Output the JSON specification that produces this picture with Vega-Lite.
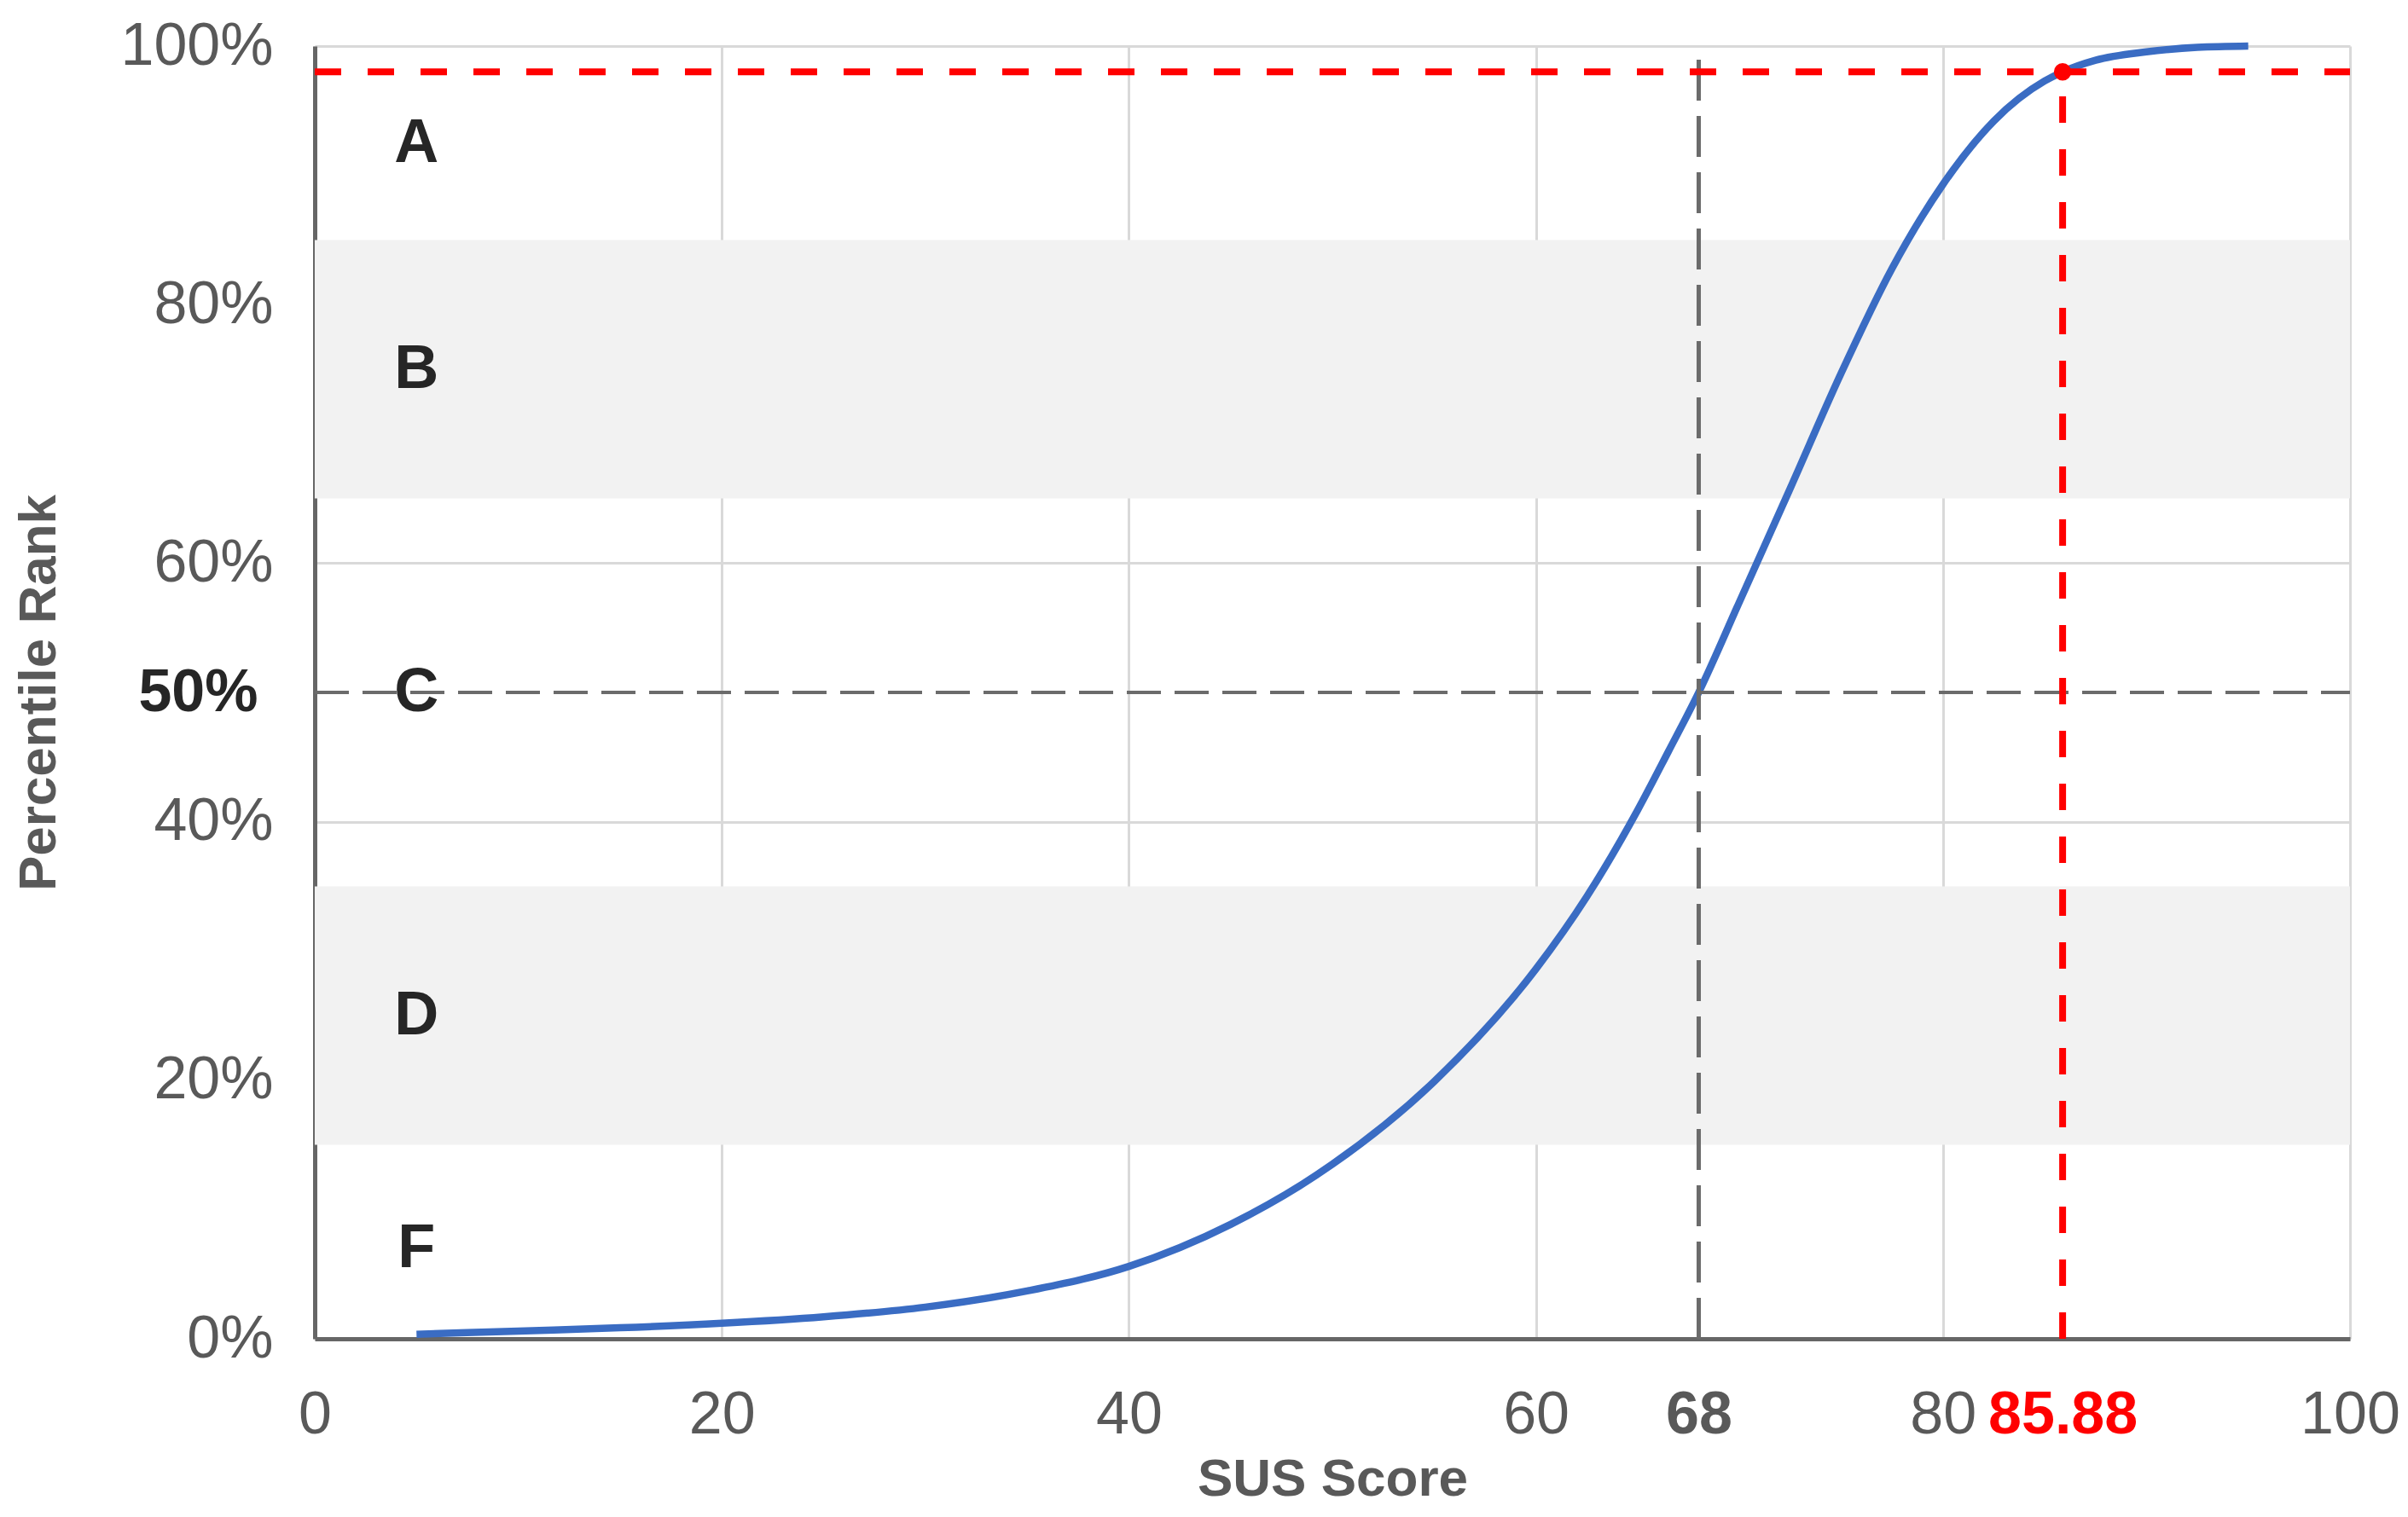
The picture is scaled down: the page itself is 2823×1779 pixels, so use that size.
{
  "$schema": "https://vega.github.io/schema/vega-lite/v6.json",
  "width": 2386,
  "height": 1516,
  "autosize": {"type": "none"},
  "padding": {"left": 369, "top": 54, "right": 68, "bottom": 209},
  "background": "white",
  "config": {"view": {"stroke": null}, "font": "Liberation Sans"},
  "datasets": {
    "bands": [
      {"x": 0, "x2": 100, "y": 65, "y2": 85, "grade": "B"},
      {"x": 0, "x2": 100, "y": 15, "y2": 35, "grade": "D"}
    ],
    "curve": [
      {"x": 5, "y": 0.35}, {"x": 10, "y": 0.6}, {"x": 15, "y": 0.85}, {"x": 20, "y": 1.2},
      {"x": 25, "y": 1.7}, {"x": 30, "y": 2.45}, {"x": 35, "y": 3.7}, {"x": 40, "y": 5.6},
      {"x": 45, "y": 8.85}, {"x": 50, "y": 13.5}, {"x": 55, "y": 19.9}, {"x": 60, "y": 28.6},
      {"x": 62.5, "y": 34.2}, {"x": 65, "y": 40.9}, {"x": 66.5, "y": 45.4}, {"x": 68, "y": 50},
      {"x": 70, "y": 57}, {"x": 72.5, "y": 65.8}, {"x": 75, "y": 74.7}, {"x": 77.5, "y": 82.8},
      {"x": 80, "y": 89.3}, {"x": 82.5, "y": 94.2}, {"x": 85, "y": 97.3}, {"x": 85.88, "y": 98},
      {"x": 87.5, "y": 98.9}, {"x": 90, "y": 99.55}, {"x": 92.5, "y": 99.9}, {"x": 95, "y": 100}
    ],
    "hgray": [{"x": 0, "x2": 100, "y": 50}],
    "vgray": [{"x": 68, "y": 0, "y2": 100}],
    "hred": [{"x": 0, "x2": 100, "y": 98}],
    "vred": [{"x": 85.88, "y": 0, "y2": 98}],
    "pt": [{"x": 85.88, "y": 98}],
    "grades": [
      {"x": 5, "y": 92.5, "label": "A"},
      {"x": 5, "y": 75, "label": "B"},
      {"x": 5, "y": 50, "label": "C"},
      {"x": 5, "y": 25, "label": "D"},
      {"x": 5, "y": 7, "label": "F"}
    ]
  },
  "encoding": {
    "x": {
      "field": "x", "type": "quantitative",
      "scale": {"domain": [0, 100], "nice": false, "zero": false},
      "axis": {
        "title": "SUS Score", "titleFont": "Liberation Sans", "titleFontSize": 62, "titleFontWeight": "bold", "titleColor": "#595959",
        "titleX": 1193, "titleY": 164, "titleBaseline": "middle", "titleAlign": "center",
        "values": [0, 20, 40, 60, 68, 80, 85.88, 100],
        "labelExpr": "datum.value == 85.88 ? '85.88' : '' + datum.value",
        "labelFont": "Liberation Sans", "labelFontSize": 70,
        "labelColor": {"condition": {"test": "datum.value == 85.88", "value": "#ff0000"}, "value": "#595959"},
        "labelFontWeight": {"condition": {"test": "datum.value == 68 || datum.value == 85.88", "value": "bold"}, "value": "normal"},
        "labelPadding": 55, "labelOverlap": false, "labelFlush": false, "labelBound": false,
        "ticks": false, "domainColor": "#666666", "domainWidth": 5,
        "grid": true, "gridColor": "#d9d9d9", "gridWidth": 3,
        "gridOpacity": {"condition": {"test": "datum.value == 68 || datum.value == 85.88", "value": 0}, "value": 1}
      }
    },
    "y": {
      "field": "y", "type": "quantitative",
      "scale": {"domain": [0, 100], "nice": false},
      "axis": {
        "title": "Percentile Rank", "titleFont": "Liberation Sans", "titleFontSize": 62, "titleFontWeight": "bold", "titleColor": "#595959",
        "titleX": -324, "titleY": 758, "titleAngle": -90, "titleBaseline": "middle", "titleAlign": "center",
        "values": [0, 20, 40, 50, 60, 80, 100],
        "labelExpr": "datum.value + '%'",
        "labelFont": "Liberation Sans", "labelFontSize": 70,
        "labelColor": {"condition": {"test": "datum.value == 50", "value": "#262626"}, "value": "#595959"},
        "labelFontWeight": {"condition": {"test": "datum.value == 50", "value": "bold"}, "value": "normal"},
        "labelPadding": {"condition": {"test": "datum.value == 50", "value": 67}, "value": 49},
        "labelOverlap": false, "labelFlush": false, "labelBound": false,
        "ticks": false, "domainColor": "#666666", "domainWidth": 5,
        "grid": true, "gridColor": "#d9d9d9", "gridWidth": 3,
        "gridOpacity": {"condition": {"test": "datum.value == 50", "value": 0}, "value": 1}
      }
    }
  },
  "layer": [
    {
      "data": {"name": "bands"},
      "mark": {"type": "rect", "color": "#f2f2f2"},
      "encoding": {"x2": {"field": "x2"}, "y2": {"field": "y2"}}
    },
    {
      "data": {"name": "curve"},
      "mark": {"type": "line", "color": "#3a6cc3", "strokeWidth": 8.5, "interpolate": "monotone"},
      "encoding": {}
    },
    {
      "data": {"name": "hgray"},
      "mark": {"type": "rule", "color": "#6b6b6b", "strokeWidth": 4, "strokeDash": [40, 16]},
      "encoding": {"x2": {"field": "x2"}}
    },
    {
      "data": {"name": "vgray"},
      "mark": {"type": "rule", "color": "#6b6b6b", "strokeWidth": 5, "strokeDash": [48, 18]},
      "encoding": {"y2": {"field": "y2"}}
    },
    {
      "data": {"name": "hred"},
      "mark": {"type": "rule", "color": "#ff0000", "strokeWidth": 8, "strokeDash": [31, 31]},
      "encoding": {"x2": {"field": "x2"}}
    },
    {
      "data": {"name": "vred"},
      "mark": {"type": "rule", "color": "#ff0000", "strokeWidth": 8, "strokeDash": [31, 31]},
      "encoding": {"y2": {"field": "y2"}}
    },
    {
      "data": {"name": "pt"},
      "mark": {"type": "point", "filled": true, "color": "#ff0000", "size": 420, "opacity": 1},
      "encoding": {}
    },
    {
      "data": {"name": "grades"},
      "mark": {"type": "text", "font": "Liberation Sans", "fontSize": 72, "fontWeight": "bold", "color": "#262626", "align": "center", "baseline": "middle"},
      "encoding": {"text": {"field": "label"}}
    }
  ]
}
